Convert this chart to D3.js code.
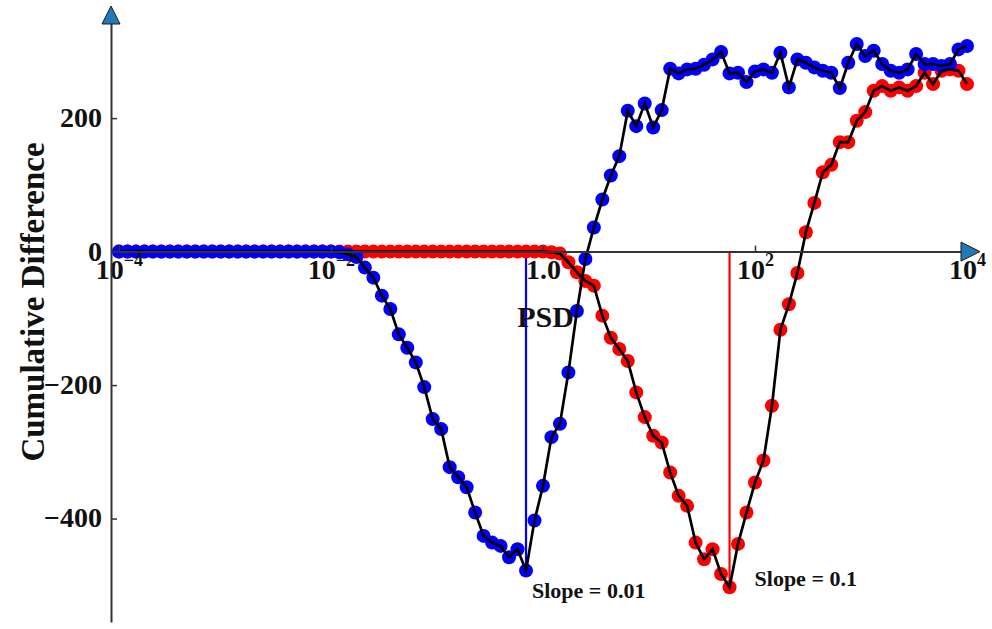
<!DOCTYPE html>
<html>
<head>
<meta charset="utf-8">
<script src="https://cdn.jsdelivr.net/npm/d3@7"></script>
<style>
	body { margin: 0; background: #fff; }
	text { font-family: "Liberation Serif", "Times New Roman", serif; font-weight: bold; fill: #111; }
</style>
</head>
<body>
<svg></svg>
<script>
// PSD bins, as powers of ten
const psdExp = [
	-4.00, -3.92, -3.84, -3.76, -3.68, -3.60, -3.52, -3.44, -3.36, -3.28,
	-3.20, -3.12, -3.04, -2.96, -2.88, -2.80, -2.72, -2.64, -2.56, -2.48,
	-2.40, -2.32, -2.24, -2.16, -2.08, -2.00, -1.92, -1.84, -1.76, -1.68,
	-1.60, -1.52, -1.44, -1.36, -1.28, -1.20, -1.12, -1.04, -0.96, -0.88,
	-0.80, -0.72, -0.64, -0.56, -0.48, -0.40, -0.32, -0.24, -0.16, -0.08,
	0.00, 0.08, 0.16, 0.24, 0.32, 0.40, 0.48, 0.56, 0.64, 0.72,
	0.80, 0.88, 0.96, 1.04, 1.12, 1.20, 1.28, 1.36, 1.44, 1.52,
	1.60, 1.68, 1.76, 1.84, 1.92, 2.00, 2.08, 2.16, 2.24, 2.32,
	2.40, 2.48, 2.56, 2.64, 2.72, 2.80, 2.88, 2.96, 3.04, 3.12,
	3.20, 3.28, 3.36, 3.44, 3.52, 3.60, 3.68, 3.76, 3.84, 3.92,
	4.00
]

// cumulative difference, slope = 0.01 (blue)
const blueDiff = [
	0, 0, 0, 0, 0, 0, 0, 0, 0, 0,
	0, 0, 0, 0, 0, 0, 0, 0, 0, 0,
	0, 0, 0, 0, 0, 0, -1, -4, -8, -24,
	-39, -66, -86, -124, -144, -166, -203, -251, -266, -323,
	-338, -353, -391, -426, -436, -441, -458, -446, -478, -403,
	-351, -278, -258, -181, -89, -11, 36, 78, 114, 143,
	211, 188, 222, 186, 212, 274, 267, 273, 274, 280,
	288, 299, 267, 268, 254, 270, 273, 268, 298, 246,
	288, 283, 276, 271, 268, 245, 283, 311, 293, 301,
	281, 271, 268, 273, 296, 281, 281, 278, 281, 303,
	308
]

// cumulative difference, slope = 0.1 (red)
const redDiff = [
	0, 0, 0, 0, 0, 0, 0, 0, 0, 0,
	0, 0, 0, 0, 0, 0, 0, 0, 0, 0,
	0, 0, 0, 0, 0, 0, 0, 0, 0, 0,
	0, 0, 0, 0, 0, 0, 0, 0, 0, 0,
	0, 0, 0, 0, 0, 0, 0, 0, 0, 0,
	0, -1, -3, -16, -31, -44, -51, -96, -129, -146,
	-164, -211, -248, -276, -286, -331, -366, -381, -436, -461,
	-446, -483, -503, -438, -391, -346, -313, -231, -117, -79,
	-32, 29, 73, 119, 130, 164, 164, 196, 209, 241,
	248, 241, 246, 241, 248, 268, 251, 271, 273, 271,
	251
]

const seriesNames = ['Slope = 0.1', 'Slope = 0.01']
const seriesColors = ['#ff0000', '#0000ff']

const xTicks = [1e-4, 1e-2, 1, 1e2, 1e4]
const xTickBase = ['10', '10', '1.0', '10', '10']
const xTickSup = ['\u22124', '\u22122', '', '2', '4']
const yTicks = [200, 0, -200, -400]

const W = 992, H = 629

const x = d3.scaleLog().domain([10 ** -4.075, 1e4]).range([111, 967])
const y = d3.scaleLinear().domain([-555, 365]).range([622, 8])

const svg = d3.select('svg')
	.attr('width', W)
	.attr('height', H)

const series = [redDiff, blueDiff].map((vals, k) => ({
	name: seriesNames[k],
	color: seriesColors[k],
	points: psdExp.map((e, i) => ({psd: 10 ** e, v: vals[i]}))
}))

// vertical markers at each minimum
series.forEach(s => {
	const m = s.points.reduce((a, b) => b.v < a.v ? b : a)
	s.min = m
	svg.append('line')
		.attr('x1', x(m.psd)).attr('x2', x(m.psd))
		.attr('y1', y(0)).attr('y2', y(m.v))
		.attr('stroke', s.color)
		.attr('stroke-width', 2.2)
})

// dots (red underneath, blue on top)
series.forEach(s => {
	svg.append('g')
		.selectAll('circle')
		.data(s.points)
		.join('circle')
		.attr('cx', d => x(d.psd))
		.attr('cy', d => y(d.v))
		.attr('r', 7)
		.attr('fill', s.color)
})

const line = d3.line()
	.x(d => x(d.psd))
	.y(d => y(d.v))

series.forEach(s => {
	svg.append('path')
		.datum(s.points)
		.attr('d', line)
		.attr('fill', 'none')
		.attr('stroke', '#000')
		.attr('stroke-width', 2.7)
})

// x axis through zero
const gx = svg.append('g')
	.attr('transform', `translate(0,${y(0)})`)
	.call(d3.axisTop(x).tickValues(xTicks).tickFormat('').tickSize(6).tickSizeOuter(0))
gx.select('.domain').attr('stroke', '#333').attr('stroke-width', 2)
gx.selectAll('.tick line').attr('stroke', '#333').attr('stroke-width', 1.5)
gx.selectAll('.tick').each(function (d, i) {
	const t = d3.select(this).append('text')
		.attr('y', 27)
		.attr('text-anchor', 'middle')
		.style('font-size', '28px')
	t.append('tspan').text(xTickBase[i])
	if (xTickSup[i]) {
		t.append('tspan')
			.attr('dy', -13)
			.style('font-size', '18px')
			.text(xTickSup[i])
	}
})

// y axis
const gy = svg.append('g')
	.attr('transform', `translate(${x.range()[0]},0)`)
	.call(d3.axisLeft(y).tickValues(yTicks).tickSize(-6).tickSizeOuter(0).tickPadding(9))
gy.select('.domain').attr('stroke', '#333').attr('stroke-width', 2)
gy.selectAll('.tick line').attr('stroke', '#333').attr('stroke-width', 1.5)
gy.selectAll('.tick text')
	.attr('dy', '0.3em')
	.style('font-size', '28px')
	.style('font-family', '"Liberation Serif", serif')
	.style('font-weight', 'bold')
	.attr('fill', '#111')

// arrow heads
const arrowFill = '#2378b8'
const x0 = x.range()[0], yTop = y.range()[1]
svg.append('path')
	.attr('d', `M${x0 - 9},${yTop + 16} L${x0 + 9},${yTop + 16} L${x0},${yTop - 2} Z`)
	.attr('fill', arrowFill).attr('stroke', '#1a1a1a').attr('stroke-width', 1)
const xEnd = x.range()[1], y0 = y(0)
svg.append('path')
	.attr('d', `M${xEnd - 6},${y0 - 9.5} L${xEnd + 13},${y0} L${xEnd - 6},${y0 + 9.5} Z`)
	.attr('fill', arrowFill).attr('stroke', '#1a1a1a').attr('stroke-width', 1)

// axis titles
svg.append('text')
	.attr('x', (x.range()[0] + x.range()[1] + 13) / 2)
	.attr('y', y0 + 75)
	.attr('text-anchor', 'middle')
	.style('font-size', '30px')
	.text('PSD')

svg.append('text')
	.attr('transform', `translate(44,${(y.range()[0] + y.range()[1]) / 2 - 13}) rotate(-90)`)
	.attr('text-anchor', 'middle')
	.style('font-size', '33px')
	.text('Cumulative Difference')

// slope labels next to each minimum
const labelOffset = [[25, -1], [6, 27]]
series.forEach((s, k) => {
	svg.append('text')
		.attr('x', x(s.min.psd) + labelOffset[k][0])
		.attr('y', y(s.min.v) + labelOffset[k][1])
		.style('font-size', '22px')
		.text(s.name)
})
</script>
</body>
</html>
